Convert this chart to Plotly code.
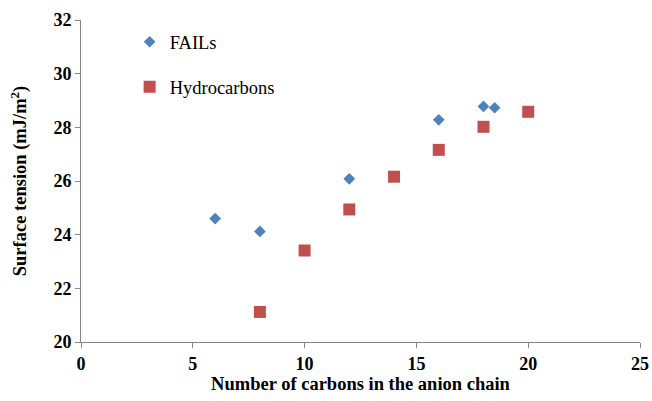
import plotly.graph_objects as go

# Surface tension vs. number of carbons in the anion chain
fails_carbons = [6, 8, 12, 16, 18, 18.5]
fails_tension = [24.6, 24.12, 26.08, 28.28, 28.78, 28.73]

hydro_carbons = [8, 10, 12, 14, 16, 18, 20]
hydro_tension = [21.12, 23.41, 24.94, 26.16, 27.16, 28.02, 28.58]

x_ticks = [0, 5, 10, 15, 20, 25]
y_ticks = [20, 22, 24, 26, 28, 30, 32]

serif = "'Times New Roman', 'Liberation Serif', serif"
axis_grey = "#868686"

fig = go.Figure()
fig.add_trace(go.Scatter(
    x=fails_carbons, y=fails_tension, mode="markers", name="FAILs",
    legendgroup="a",
    marker=dict(symbol="diamond", size=9, color="#4F81BD"),
))
fig.add_trace(go.Scatter(
    x=hydro_carbons, y=hydro_tension, mode="markers", name="Hydrocarbons",
    legendgroup="b",
    marker=dict(symbol="square", size=12, color="#C0504D"),
))

tick_font = dict(family=serif, size=18, color="black", weight="bold")
title_font = dict(family=serif, size=18.5, color="black", weight="bold")

fig.update_layout(
    width=652, height=401,
    margin=dict(l=81, r=12, t=20, b=59, autoexpand=False),
    paper_bgcolor="white", plot_bgcolor="white",
    font=dict(family=serif, color="black"),
    legend=dict(
        x=0.087, y=0.99, xanchor="left", yanchor="top",
        font=dict(family=serif, size=18.5, color="black"),
        traceorder="grouped", tracegroupgap=18,
        itemwidth=30, bgcolor="rgba(0,0,0,0)",
    ),
    xaxis=dict(
        range=[0, 25], tickvals=x_ticks, ticktext=[str(v) for v in x_ticks],
        showgrid=False, zeroline=False, automargin=False,
        showline=True, linecolor=axis_grey, linewidth=1,
        ticks="outside", ticklen=5, tickcolor=axis_grey,
        tickfont=tick_font,
        title=dict(text="Number of carbons in the anion chain",
                   font=title_font, standoff=4),
    ),
    yaxis=dict(
        range=[20, 32], tickvals=y_ticks, ticktext=[str(v) for v in y_ticks],
        showgrid=False, zeroline=False, automargin=False,
        showline=True, linecolor=axis_grey, linewidth=1,
        ticks="outside", ticklen=5, tickcolor=axis_grey,
        tickfont=tick_font,
        title=dict(text="Surface tension (mJ/m<sup>2</sup>)",
                   font=title_font, standoff=21),
    ),
)

fig.write_html("out.html")
